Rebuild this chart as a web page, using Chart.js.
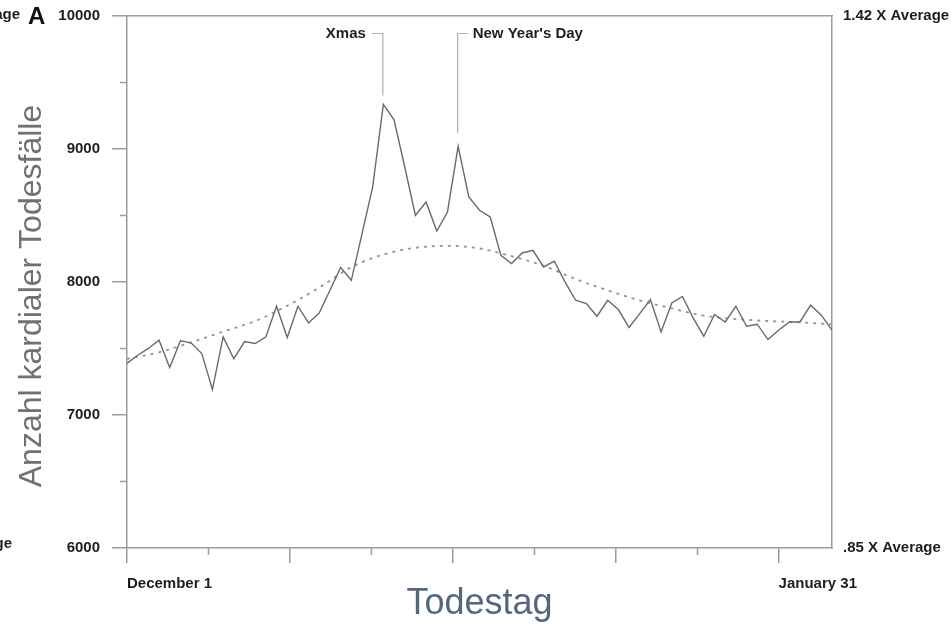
<!DOCTYPE html>
<html>
<head>
<meta charset="utf-8">
<script src="https://cdn.jsdelivr.net/npm/chart.js@4.4.1/dist/chart.umd.min.js"></script>
<style>
  html, body { margin: 0; padding: 0; background: #fff; }
  canvas { display: block; }
</style>
</head>
<body>
<canvas id="deathChart" width="951" height="626"></canvas>
<script>
// daily cardiac deaths, Dec 1 (day 0) .. day 66
const deaths = [
  7386, 7448, 7499, 7561, 7356, 7556, 7541, 7461, 7191, 7586,
  7421, 7551, 7536, 7586, 7816, 7581, 7816, 7691, 7766, 7936,
  8107, 8011, 8359, 8712, 9332, 9217, 8864, 8499, 8599, 8381,
  8524, 9017, 8637, 8537, 8487, 8199, 8137, 8216, 8236, 8111,
  8154, 7999, 7861, 7836, 7741, 7861, 7791, 7656, 7761, 7866,
  7623, 7841, 7890, 7728, 7591, 7754, 7698, 7816, 7666, 7681,
  7566, 7636, 7698, 7698, 7824, 7749, 7636
];
const days = deaths.map((_, i) => i);

// smooth trend (dotted), read at every third day
const trendDays = [0, 3, 6, 9, 12, 15, 18, 21, 24, 27, 30, 33, 36, 39, 42, 45, 48, 51, 54, 57, 60, 63, 66];
const trendValues = [7420, 7470, 7545, 7625, 7705, 7820, 7956, 8110, 8205, 8255, 8270, 8250,
                     8192, 8120, 8020, 7935, 7860, 7800, 7745, 7720, 7705, 7695, 7680];

const yMajorTicks = [6000, 7000, 8000, 9000, 10000];
const yMinorTicks = [6500, 7500, 8500, 9500];
const xMajorTicks = [0, 15.25, 30.5, 45.75, 61];
const xMinorTicks = [7.625, 22.875, 38.125, 53.375];
const xTickLabels = { 0: 'December 1', 61: 'January 31' };
const rightLabels = { 6000: '.85 X Average', 10000: '1.42 X Average' };

const annoDays = [24, 31];
const annoText = ['Xmas', "New Year's Day"];

const FONT = '"Liberation Sans", Arial, Helvetica, sans-serif';
const AXIS = '#9c9c9c';
const TEXT = '#1e1e1e';
const smallFont = { family: FONT, size: 15, weight: 'bold' };

const noPad = s => { s.paddingTop = 0; s.paddingBottom = 0; };

const extras = {
  id: 'extras',
  afterDraw(chart) {
    const { ctx, chartArea: a, scales } = chart;
    const x = scales.x, y = scales.y;
    ctx.save();

    // minor ticks
    ctx.strokeStyle = AXIS;
    ctx.lineWidth = 1.5;
    ctx.beginPath();
    yMinorTicks.forEach(v => {
      const py = Math.round(y.getPixelForValue(v)) + 0.5;
      ctx.moveTo(a.left - 7, py); ctx.lineTo(a.left, py);
    });
    xMinorTicks.forEach(v => {
      const px = Math.round(x.getPixelForValue(v)) + 0.5;
      ctx.moveTo(px, a.bottom); ctx.lineTo(px, a.bottom + 7);
    });
    ctx.stroke();

    // holiday leaders
    ctx.strokeStyle = '#b0b0b0';
    ctx.lineWidth = 1.2;
    ctx.fillStyle = TEXT;
    ctx.font = 'bold 15px ' + FONT;
    ctx.textBaseline = 'middle';
    const ly = 33.5;
    annoDays.forEach((d, i) => {
      const px = x.getPixelForValue(d) - 0.5;
      const gap = i === 0 ? 9 : 13;
      const endY = y.getPixelForValue(deaths[d]) - gap;
      ctx.beginPath();
      if (i === 0) {
        ctx.moveTo(px - 11, ly); ctx.lineTo(px, ly); ctx.lineTo(px, endY);
        ctx.stroke();
        ctx.textAlign = 'right';
        ctx.fillText(annoText[i], px - 17, ly);
      } else {
        ctx.moveTo(px + 10, ly); ctx.lineTo(px, ly); ctx.lineTo(px, endY);
        ctx.stroke();
        ctx.textAlign = 'left';
        ctx.fillText(annoText[i], px + 15, ly);
      }
    });

    // clipped labels from the neighbouring panel and panel letter
    ctx.textAlign = 'right';
    ctx.fillText('1.42 X Average', 20, 15);
    ctx.fillText('.85 X Average', 12, 544);
    ctx.textAlign = 'left';
    ctx.font = 'bold 24px ' + FONT;
    ctx.fillStyle = '#111';
    ctx.fillText('A', 28, 17);

    // y axis title
    ctx.translate(32, 296);
    ctx.rotate(-Math.PI / 2);
    ctx.textAlign = 'center';
    ctx.font = '32px ' + FONT;
    ctx.fillStyle = '#717171';
    ctx.fillText('Anzahl kardialer Todesfälle', 0, 0);
    ctx.restore();
  }
};

new Chart(document.getElementById('deathChart'), {
  type: 'line',
  data: {
    datasets: [
      {
        data: days.map((d, i) => ({ x: d, y: deaths[i] })),
        borderColor: '#6a6a6a',
        borderWidth: 1.4,
        pointRadius: 0,
        tension: 0
      },
      {
        data: trendDays.map((d, i) => ({ x: d, y: trendValues[i] })),
        borderColor: '#959595',
        borderWidth: 1.8,
        borderDash: [3, 5],
        pointRadius: 0,
        cubicInterpolationMode: 'monotone'
      }
    ]
  },
  options: {
    responsive: false,
    animation: false,
    devicePixelRatio: 1,
    layout: { padding: { top: 15.5, left: 0, right: 0, bottom: 0 } },
    plugins: { legend: { display: false }, tooltip: { enabled: false } },
    scales: {
      x: {
        type: 'linear',
        position: 'bottom',
        min: 0,
        max: 66,
        afterBuildTicks: s => { s.ticks = xMajorTicks.map(v => ({ value: v })); },
        afterFit: s => { s.height = 78; },
        ticks: {
          align: 'start',
          autoSkip: false,
          maxRotation: 0,
          padding: 12,
          color: TEXT,
          font: smallFont,
          callback: v => xTickLabels[v] || ''
        },
        grid: { drawOnChartArea: false, tickLength: 15, color: AXIS, lineWidth: 1.5 },
        border: { color: AXIS, width: 1.5 },
        title: {
          display: true,
          text: 'Todestag',
          color: '#55677d',
          font: { family: FONT, size: 36 },
          padding: { top: 0, bottom: 0 }
        }
      },
      xTop: {
        type: 'linear',
        position: 'top',
        min: 0,
        max: 66,
        afterFit: s => { s.height = 0; },
        ticks: { display: false },
        grid: { display: false, drawTicks: false },
        border: { color: AXIS, width: 1.5 }
      },
      y: {
        position: 'left',
        min: 6000,
        max: 10000,
        afterBuildTicks: s => { s.ticks = yMajorTicks.map(v => ({ value: v })); },
        afterFit: s => { s.width = 127; noPad(s); },
        ticks: { padding: 12, color: TEXT, font: smallFont, callback: v => String(v) },
        grid: { drawOnChartArea: false, tickLength: 15, color: AXIS, lineWidth: 1.5 },
        border: { color: AXIS, width: 1.5 }
      },
      yRight: {
        position: 'right',
        min: 6000,
        max: 10000,
        afterBuildTicks: s => { s.ticks = [6000, 10000].map(v => ({ value: v })); },
        afterFit: s => { s.width = 119; noPad(s); },
        ticks: { padding: 11, color: TEXT, font: smallFont, callback: v => rightLabels[v] || '' },
        grid: { display: false, drawTicks: false },
        border: { color: AXIS, width: 1.5 }
      }
    }
  },
  plugins: [extras]
});
</script>
</body>
</html>
